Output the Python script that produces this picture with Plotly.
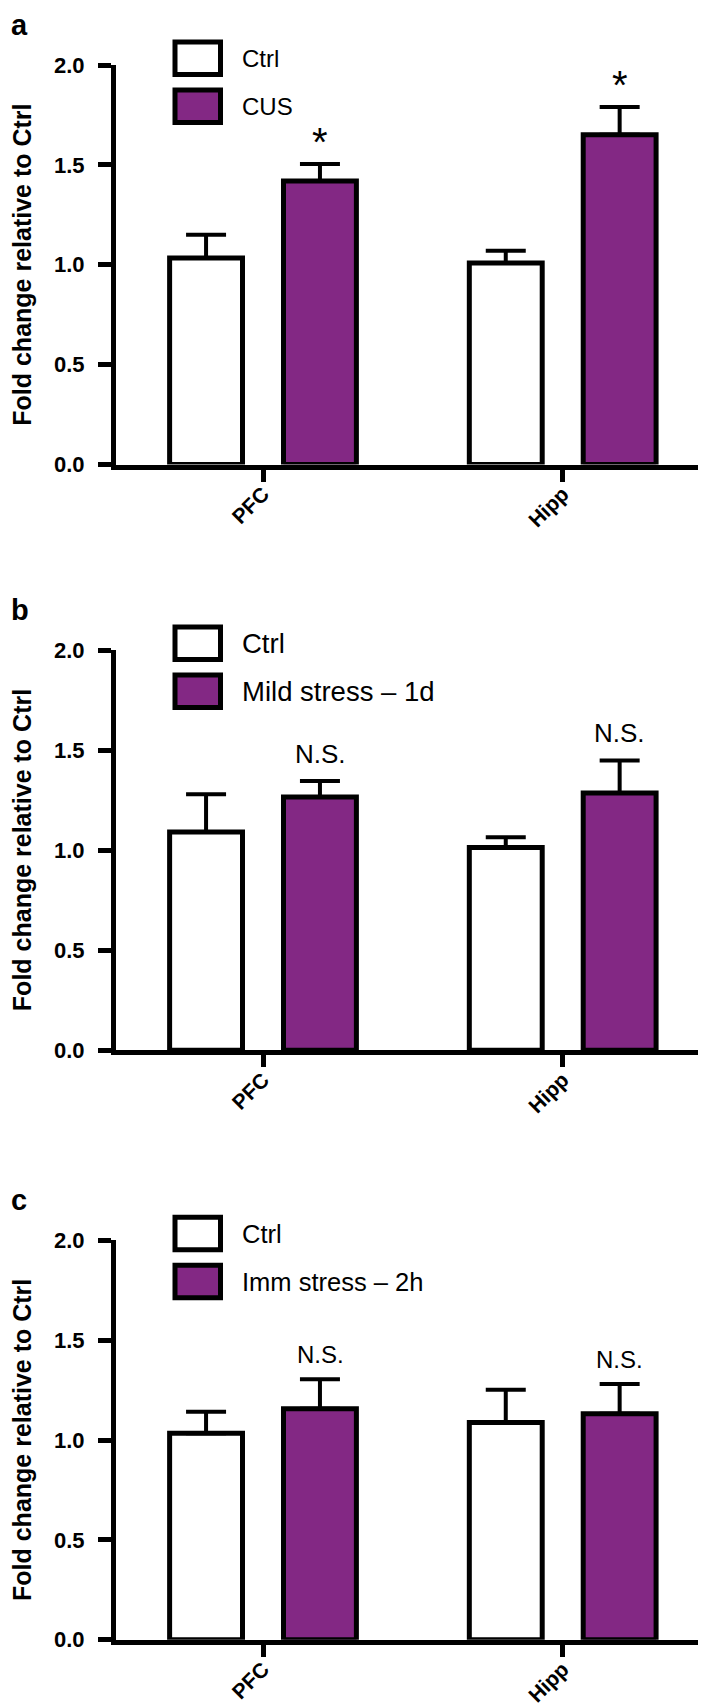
import plotly.graph_objects as go

# ---------------- data ----------------
categories = ["PFC", "Hipp"]
panel_letters = ["a", "b", "c"]
ctrl_name = "Ctrl"
stress_names = ["CUS", "Mild stress – 1d", "Imm stress – 2h"]
ctrl_means = [[1.034, 1.009], [1.091, 1.013], [1.034, 1.088]]
ctrl_err = [[0.116, 0.061], [0.188, 0.051], [0.108, 0.164]]
stress_means = [[1.419, 1.651], [1.265, 1.286], [1.156, 1.132]]
stress_err = [[0.085, 0.139], [0.080, 0.162], [0.148, 0.149]]
sig_labels = [["*", "*"], ["N.S.", "N.S."], ["N.S.", "N.S."]]
y_tickvals = [0.0, 0.5, 1.0, 1.5, 2.0]
y_ticktext = ["0.0", "0.5", "1.0", "1.5", "2.0"]
y_title = "Fold change relative to Ctrl"

# ---------------- layout geometry (pixels) ----------------
W, H = 706, 1706
ML, MR = 108, 3
PW = W - ML - MR
panel_top = [57.0, 642.0, 1232.3]      # pixel y of 2.0
panel_bot = [456.5, 1042.3, 1631.7]    # pixel y of 0.0
legend_font = [24, 27.5, 25.5]
sig_font = [40, 26, 24]
sig_shift = [-2, 10, 9]
purple = "#832884"
FONT = "Liberation Sans, Arial, Helvetica, sans-serif"


def px2x(px):
    return (px - ML) / PW


def py2y(py):
    return 1 - py / H


fig = go.Figure()
shapes = []
annotations = []

for i in range(3):
    sfx = "" if i == 0 else str(i + 1)
    xa, ya = "x" + sfx, "y" + sfx
    fig.add_trace(go.Bar(
        x=categories, y=ctrl_means[i], name=ctrl_name, xaxis=xa, yaxis=ya,
        marker=dict(color="white", line=dict(color="black", width=5)),
        error_y=dict(type="data", array=ctrl_err[i], arrayminus=[0, 0],
                     symmetric=False, color="black", thickness=4, width=20),
        showlegend=False))
    fig.add_trace(go.Bar(
        x=categories, y=stress_means[i], name=stress_names[i], xaxis=xa, yaxis=ya,
        marker=dict(color=purple, line=dict(color="black", width=5)),
        error_y=dict(type="data", array=stress_err[i], arrayminus=[0, 0],
                     symmetric=False, color="black", thickness=4, width=20),
        showlegend=False))

    dom = [py2y(panel_bot[i]), py2y(panel_top[i])]
    fig.layout["xaxis" + sfx] = dict(
        domain=[0, 1], anchor=ya, type="category", range=[-0.4905, 1.4948],
        showline=True, linecolor="black", linewidth=5,
        ticks="outside", ticklen=12, tickwidth=5, tickcolor="black",
        tickangle=-45, ticklabelstandoff=-8,
        tickfont=dict(family=FONT, size=21, color="black", weight="bold"),
        showgrid=False, zeroline=False, fixedrange=True)
    fig.layout["yaxis" + sfx] = dict(
        domain=dom, anchor=xa, range=[0, 2],
        tickvals=y_tickvals, ticktext=y_ticktext,
        showline=True, linecolor="black", linewidth=5,
        ticks="outside", ticklen=13, tickwidth=5, tickcolor="black",
        ticklabelstandoff=9,
        tickfont=dict(family=FONT, size=22, color="black", weight="bold"),
        showgrid=False, zeroline=False, fixedrange=True)

    # significance labels above stress bars
    for j, cat in enumerate(categories):
        annotations.append(dict(
            x=cat, y=stress_means[i][j] + stress_err[i][j], xref=xa, yref=ya,
            text=sig_labels[i][j], showarrow=False, xshift=57, yshift=sig_shift[i],
            yanchor="bottom", xanchor="center",
            font=dict(family=FONT, size=sig_font[i], color="black")))

    # y axis title
    annotations.append(dict(
        x=px2x(14), y=py2y((panel_top[i] + panel_bot[i]) / 2), xref="paper", yref="paper",
        text=y_title, textangle=-90, showarrow=False, xanchor="center", yanchor="middle",
        font=dict(family=FONT, size=25, color="black", weight="bold")))

    # panel letter
    annotations.append(dict(
        x=px2x(1), y=py2y(panel_top[i] - 40), xref="paper", yref="paper",
        text=panel_letters[i], showarrow=False, xanchor="left", yanchor="middle",
        font=dict(family=FONT, size=29, color="black", weight="bold")))

    # legend (boxes + labels)
    top = panel_top[i]
    for k, (fill, label) in enumerate([("white", ctrl_name), (purple, stress_names[i])]):
        y0 = top - 23 + k * 48
        y1 = y0 + 32.5
        shapes.append(dict(type="rect", xref="paper", yref="paper",
                           x0=px2x(167), x1=px2x(212.5), y0=py2y(y1), y1=py2y(y0),
                           fillcolor=fill, line=dict(color="black", width=5)))
        annotations.append(dict(
            x=px2x(232), y=py2y((y0 + y1) / 2), xref="paper", yref="paper",
            text=label, showarrow=False, xanchor="left", yanchor="middle",
            font=dict(family=FONT, size=legend_font[i], color="black")))

fig.update_layout(
    width=W, height=H,
    margin=dict(l=ML, r=MR, t=0, b=0, autoexpand=False),
    paper_bgcolor="white", plot_bgcolor="white",
    barmode="group", bargap=0.24, bargroupgap=0.36,
    shapes=shapes, annotations=annotations,
    showlegend=False,
)

fig.write_html("out.html")
